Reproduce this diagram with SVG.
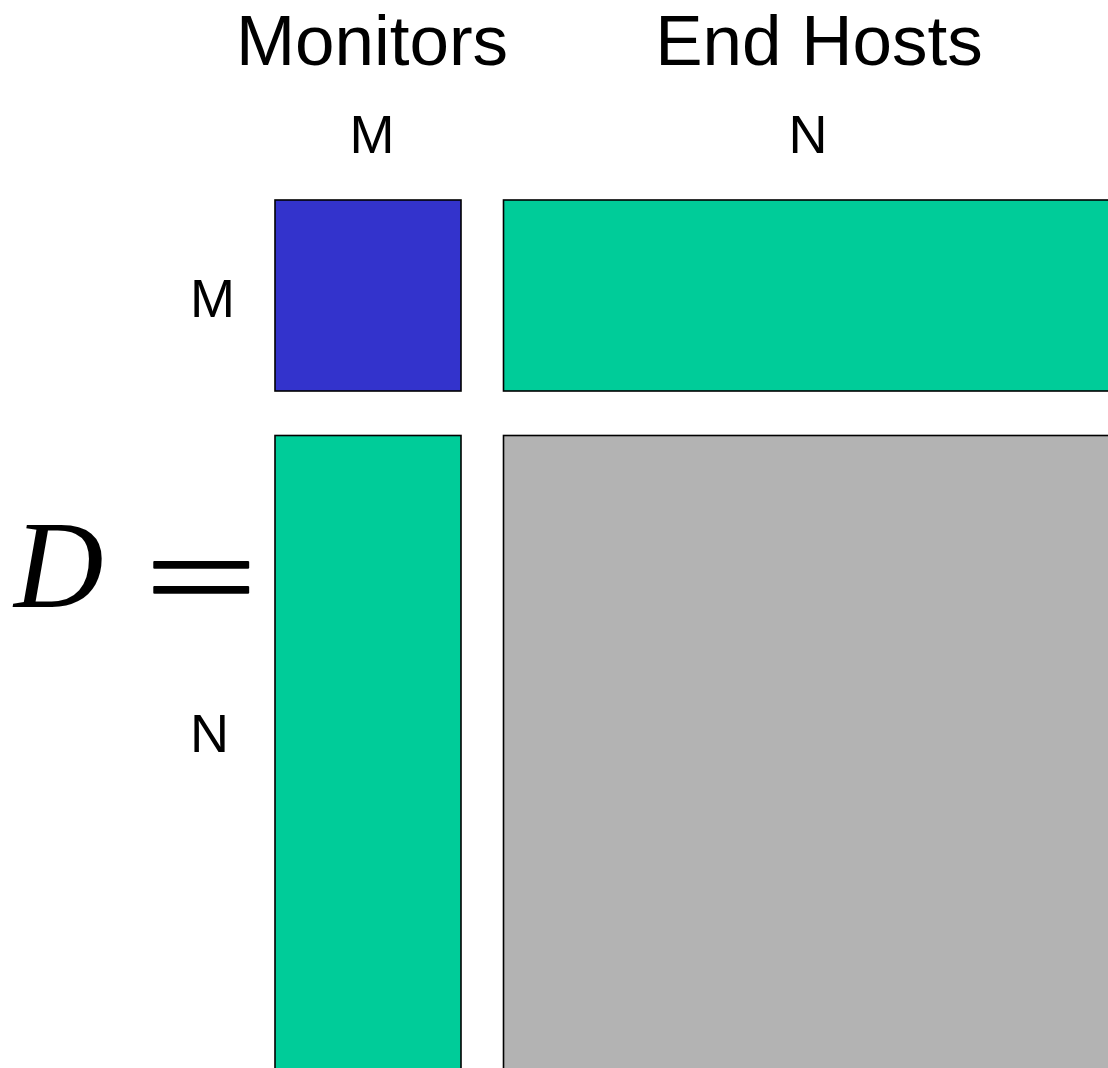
<svg xmlns="http://www.w3.org/2000/svg" width="1108" height="1068" viewBox="0 0 1108 1068">
<style>
.blk{stroke:#000;stroke-width:1.6}
.lbl{font-family:"Liberation Sans",Arial,sans-serif;fill:#000;text-anchor:middle}
.big{font-size:71px}
.sm{font-size:54px}
.math{font-family:"Liberation Serif","Times New Roman",serif;fill:#000}
</style>
<rect width="1108" height="1068" fill="#fff"/>
<g id="header-monitors"><text class="lbl big" x="372" y="65">Monitors</text></g>
<g id="header-endhosts"><text class="lbl big" x="819" y="65">End Hosts</text></g>
<g id="col-M"><text class="lbl sm" x="372" y="153">M</text></g>
<g id="col-N"><text class="lbl sm" x="808" y="153">N</text></g>
<g id="row-M"><text class="lbl sm" x="212.5" y="317">M</text></g>
<g id="row-N"><text class="lbl sm" x="209.5" y="752">N</text></g>
<g id="equation">
<text class="math" x="14" y="607" font-size="124" font-style="italic">D</text>
<text class="math" transform="translate(144.5,619) scale(1.62,1)" x="0" y="0" font-size="124" stroke="#000" stroke-width="1.5" stroke-linejoin="round">=</text>
</g>
<g id="block-MM"><rect class="blk" x="275" y="200" width="186" height="191" fill="#3333cc"/></g>
<g id="block-MN"><rect class="blk" x="503.5" y="200" width="620" height="191" fill="#00cc99"/></g>
<g id="block-NM"><rect class="blk" x="275" y="435.5" width="186" height="650" fill="#00cc99"/></g>
<g id="block-NN"><rect class="blk" x="503.5" y="435.5" width="620" height="650" fill="#b3b3b3"/></g>
<g id="connectors"/>
</svg>
